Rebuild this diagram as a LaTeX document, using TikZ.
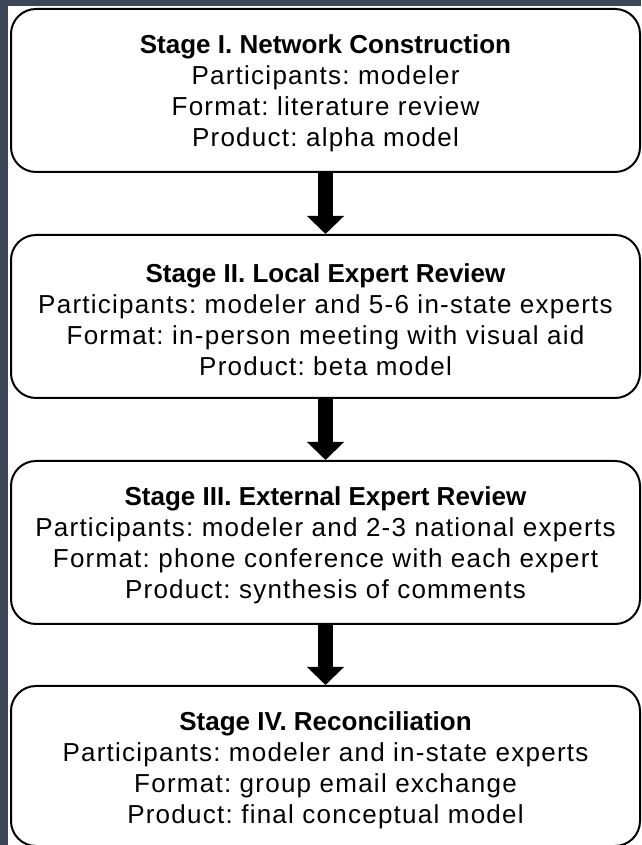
\documentclass[tikz,border=0pt]{standalone}
\usepackage{fontspec}
\setmainfont{Liberation Sans}
\newfontfamily\bodyfont{Liberation Sans}[LetterSpace=4.8]
\usetikzlibrary{arrows.meta}
\definecolor{slate}{RGB}{59,70,88}
\newcommand{\ttl}[1]{{\rmfamily\bfseries #1}}
\tikzset{
  stagebox/.style={draw=black, line width=2pt, rounded corners=25pt, fill=white,
    minimum width=629pt, minimum height=163pt, inner sep=0pt, anchor=north west},
  stagetext/.style={align=center, inner sep=0pt,
    font=\fontsize{26}{31}\selectfont\bodyfont\frenchspacing},
  blockarrow/.style={line width=15pt, draw=black,
    -{Triangle[width=36pt,length=18pt]}}
}
\begin{document}
\begin{tikzpicture}[x=1pt,y=1pt]
\fill[slate] (0,0) rectangle (641,845);
\fill[white] (8,0) rectangle (641,839);
\useasboundingbox (0,0) rectangle (641,845);
\begin{scope}
\clip (8,0) rectangle (641,839);
\node[stagebox] (s1) at (10,837) {};
\node[stagebox] (s2) at (10,611) {};
\node[stagebox] (s3) at (10,385) {};
\node[stagebox, minimum height=160pt] (s4) at (10,160) {};
\end{scope}
\node[stagetext] (t1) at ([yshift=-3pt]s1.center) {\ttl{Stage I. Network Construction}\\Participants: modeler\\Format: literature review\\Product: alpha model};
\node[stagetext] (t2) at ([yshift=-3pt]s2.center) {\ttl{Stage II. Local Expert Review}\\Participants: modeler and 5-6 in-state experts\\Format: in-person meeting with visual aid\\Product: beta model};
\node[stagetext] (t3) at ([yshift=-3pt]s3.center) {\ttl{Stage III. External Expert Review}\\Participants: modeler and 2-3 national experts\\Format: phone conference with each expert\\Product: synthesis of comments};
\node[stagetext] (t4) at ([yshift=-4pt]s4.center) {\ttl{Stage IV. Reconciliation}\\Participants: modeler and in-state experts\\Format: group email exchange\\Product: final conceptual model};
\draw[blockarrow] (s1.south) -- (s2.north);
\draw[blockarrow] (s2.south) -- (s3.north);
\draw[blockarrow] (s3.south) -- (s4.north);
\end{tikzpicture}
\end{document}
